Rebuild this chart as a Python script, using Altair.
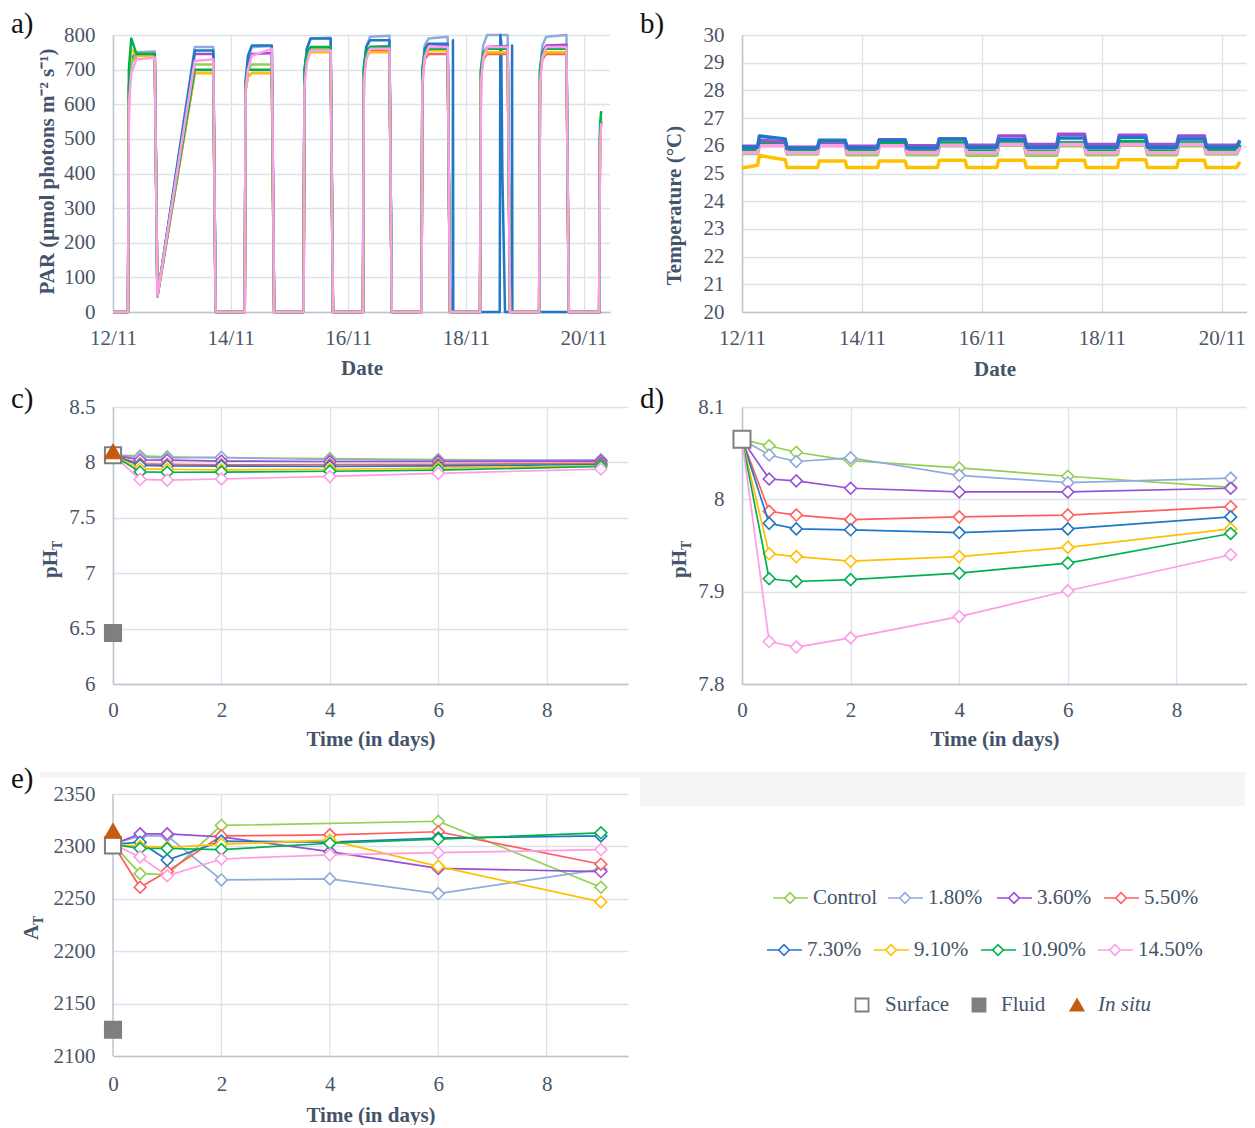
import json
import altair as alt
import pandas as pd

SERIF = "Liberation Serif, Times New Roman, Times, serif"
TXT = "#44546A"
GRID = "#DDE2EA"
AXIS = "#BCC4D0"

# ---------------- series & colours ----------------
SERIES = ["Control", "1.80%", "3.60%", "5.50%", "7.30%", "9.10%", "10.90%", "14.50%"]
COLORS = ["#92D050", "#8FAADC", "#9A4FD4", "#FF5E5E", "#1F78C6", "#FFC000", "#00B050", "#FF9CE6"]
COLOR = dict(zip(SERIES, COLORS))

DATE_TICKS = [0, 2, 4, 6, 8]
DATE_LABELS = ["12/11", "14/11", "16/11", "18/11", "20/11"]
DAY_TICKS = [0, 2, 4, 6, 8]

# ---------------- a) PAR (days since 12/11) ----------------
PAR_T = [0.0, 0.255, 0.27, 0.31, 0.40, 0.71, 0.755,
         1.39, 1.705, 1.745,
         2.24, 2.255, 2.295, 2.36, 2.70, 2.74,
         3.24, 3.255, 3.295, 3.36, 3.70, 3.74,
         4.25, 4.265, 4.305, 4.37, 4.70, 4.74,
         5.245, 5.26, 5.30, 5.365, 5.69, 5.73,
         6.24, 6.255, 6.295, 6.36, 6.71, 6.75,
         7.245, 7.26, 7.30, 7.365, 7.71, 7.75,
         8.265, 8.28, 8.30]
PAR_CONTROL = [0, 0, 640, 720, 745, 745, 45, 715, 715, 0,
               0, 650, 700, 715, 715, 0, 0, 680, 740, 760, 760, 0,
               0, 690, 745, 765, 765, 0, 0, 680, 745, 760, 760, 0,
               0, 690, 745, 760, 760, 0, 0, 690, 745, 760, 760, 0, 0, 520, 560]
PAR_180 = [0, 0, 650, 735, 750, 752, 45, 765, 765, 0,
           0, 660, 730, 765, 768, 0, 0, 690, 760, 790, 792, 0,
           0, 700, 765, 795, 798, 0, 0, 700, 770, 790, 795, 0,
           0, 700, 770, 800, 800, 0, 0, 700, 770, 795, 800, 0, 0, 500, 550]
PAR_360 = [0, 0, 640, 725, 740, 740, 45, 745, 745, 0,
           0, 650, 720, 745, 748, 0, 0, 680, 740, 760, 762, 0,
           0, 690, 745, 765, 768, 0, 0, 680, 745, 765, 768, 0,
           0, 690, 745, 765, 768, 0, 0, 690, 750, 770, 772, 0, 0, 500, 550]
PAR_550 = [0, 0, 630, 720, 740, 740, 45, 690, 690, 0,
           0, 640, 680, 690, 690, 0, 0, 670, 735, 755, 755, 0,
           0, 680, 735, 755, 755, 0, 0, 670, 730, 745, 745, 0,
           0, 680, 730, 745, 745, 0, 0, 680, 730, 745, 745, 0, 0, 500, 550]
PAR_910 = [0, 0, 640, 760, 740, 740, 45, 690, 690, 0,
           0, 640, 680, 690, 690, 0, 0, 670, 735, 750, 750, 0,
           0, 680, 735, 750, 750, 0, 0, 680, 740, 755, 755, 0,
           0, 680, 735, 750, 750, 0, 0, 680, 735, 750, 750, 0, 0, 500, 550]
PAR_1090 = [0, 0, 700, 790, 745, 745, 45, 700, 700, 0,
            0, 660, 700, 700, 700, 0, 0, 700, 750, 765, 765, 0,
            0, 710, 755, 765, 765, 0, 0, 700, 750, 760, 760, 0,
            0, 700, 750, 760, 760, 0, 0, 700, 750, 760, 760, 0, 0, 540, 580]
PAR_1450 = [0, 0, 600, 690, 730, 735, 45, 725, 730, 0,
            0, 640, 700, 740, 760, 0, 0, 650, 720, 755, 755, 0,
            0, 660, 730, 760, 760, 0, 0, 660, 735, 765, 765, 0,
            0, 660, 735, 765, 765, 0, 0, 660, 735, 765, 765, 0, 0, 480, 545]
PAR_T_730 = [0.0, 0.255, 0.27, 0.31, 0.40, 0.71, 0.755,
             1.39, 1.705, 1.745,
             2.24, 2.255, 2.295, 2.36, 2.70, 2.74,
             3.24, 3.255, 3.295, 3.36, 3.70, 3.74,
             4.25, 4.265, 4.305, 4.37, 4.70, 4.74,
             5.245, 5.26, 5.30, 5.365, 5.69, 5.73,
             5.775, 5.78, 5.785,
             6.575, 6.585, 6.60, 6.62, 6.665,
             6.78, 6.785, 6.79,
             8.30]
PAR_730 = [0, 0, 650, 730, 745, 745, 45, 755, 755, 0,
           0, 670, 740, 770, 770, 0, 0, 690, 760, 790, 790, 0,
           0, 700, 765, 785, 785, 0, 0, 690, 760, 775, 775, 0,
           0, 785, 0,
           0, 800, 780, 400, 0,
           0, 770, 0,
           0]

# ---------------- b) Temperature ----------------
TEMP_T = [0.0, 0.26, 0.29, 0.72, 0.75, 1.26, 1.29, 1.72, 1.75, 2.26, 2.29, 2.72, 2.75,
          3.26, 3.29, 3.72, 3.75, 4.25, 4.28, 4.71, 4.74, 5.25, 5.28, 5.71, 5.74,
          6.26, 6.29, 6.73, 6.76, 7.25, 7.28, 7.71, 7.74, 8.25, 8.30]
TEMP_CONTROL = [25.72, 25.72, 26.05, 26.02, 25.70, 25.70, 26.02, 26.02, 25.68, 25.68, 26.02, 26.02,
                25.68, 25.68, 26.00, 26.00, 25.66, 25.66, 26.02, 26.02, 25.66, 25.66, 26.00, 26.00,
                25.68, 25.68, 26.02, 26.02, 25.68, 25.68, 26.00, 26.00, 25.70, 25.70, 25.95]
TEMP_180 = [25.85, 25.85, 26.10, 26.10, 25.85, 25.85, 26.08, 26.08, 25.85, 25.85, 26.10, 26.10,
            25.85, 25.85, 26.10, 26.10, 25.85, 25.85, 26.12, 26.12, 25.85, 25.85, 26.12, 26.12,
            25.85, 25.85, 26.12, 26.12, 25.85, 25.85, 26.12, 26.12, 25.85, 25.85, 26.05]
TEMP_360 = [25.98, 25.98, 26.20, 26.15, 25.95, 25.95, 26.15, 26.15, 25.98, 25.98, 26.22, 26.22,
            26.00, 26.00, 26.25, 26.25, 26.02, 26.02, 26.35, 26.35, 26.05, 26.05, 26.42, 26.42,
            26.05, 26.05, 26.38, 26.38, 26.05, 26.05, 26.35, 26.35, 26.02, 26.02, 26.15]
TEMP_550 = [25.78, 25.78, 26.05, 26.05, 25.78, 25.78, 26.05, 26.05, 25.78, 25.78, 26.05, 26.05,
            25.78, 25.78, 26.05, 26.05, 25.78, 25.78, 26.08, 26.08, 25.78, 25.78, 26.08, 26.08,
            25.78, 25.78, 26.08, 26.08, 25.78, 25.78, 26.08, 26.08, 25.78, 25.78, 26.00]
TEMP_730 = [25.95, 25.95, 26.35, 26.25, 25.90, 25.92, 26.20, 26.20, 25.92, 25.92, 26.20, 26.20,
            25.92, 25.92, 26.25, 26.25, 25.95, 25.95, 26.22, 26.22, 25.95, 25.95, 26.28, 26.28,
            25.95, 25.95, 26.30, 26.30, 25.95, 25.95, 26.25, 26.25, 25.95, 25.95, 26.20]
TEMP_910 = [25.20, 25.30, 25.65, 25.50, 25.22, 25.22, 25.45, 25.45, 25.22, 25.22, 25.45, 25.45,
            25.22, 25.22, 25.48, 25.48, 25.22, 25.22, 25.48, 25.48, 25.22, 25.22, 25.48, 25.48,
            25.22, 25.22, 25.50, 25.50, 25.22, 25.22, 25.48, 25.48, 25.22, 25.22, 25.42]
TEMP_1090 = [25.82, 25.82, 26.12, 26.10, 25.80, 25.80, 26.08, 26.08, 25.80, 25.80, 26.10, 26.10,
             25.78, 25.78, 26.10, 26.10, 25.80, 25.80, 26.12, 26.12, 25.78, 25.78, 26.10, 26.10,
             25.80, 25.80, 26.15, 26.15, 25.80, 25.80, 26.10, 26.10, 25.82, 25.82, 26.05]
TEMP_1450 = [25.75, 25.75, 26.00, 26.00, 25.75, 25.75, 26.00, 26.00, 25.75, 25.75, 26.00, 26.00,
             25.75, 25.75, 26.02, 26.02, 25.75, 25.75, 26.05, 26.05, 25.75, 25.75, 26.05, 26.05,
             25.75, 25.75, 26.05, 26.05, 25.75, 25.75, 26.05, 26.05, 25.75, 25.75, 25.95]

# ---------------- c/d) pH_T and e) A_T ----------------
DAYS = [0, 0.5, 1, 2, 4, 6, 9]
PH_CONTROL = [8.065, 8.058, 8.051, 8.042, 8.034, 8.025, 8.013]
PH_180 = [8.065, 8.048, 8.041, 8.045, 8.026, 8.018, 8.023]
PH_360 = [8.065, 8.022, 8.020, 8.012, 8.008, 8.008, 8.012]
PH_550 = [8.065, 7.987, 7.983, 7.978, 7.981, 7.983, 7.992]
PH_730 = [8.065, 7.974, 7.968, 7.967, 7.964, 7.968, 7.981]
PH_910 = [8.065, 7.941, 7.938, 7.933, 7.938, 7.948, 7.968]
PH_1090 = [8.065, 7.914, 7.911, 7.913, 7.920, 7.931, 7.963]
PH_1450 = [8.065, 7.846, 7.840, 7.850, 7.873, 7.901, 7.940]

AT_CONTROL = [2302, 2274, 2273, 2320, None, 2324, 2261]
AT_180 = [2302, 2310, 2310, 2268, 2269, 2255, 2278]
AT_360 = [2302, 2312, 2312, 2309, 2295, 2279, 2276]
AT_550 = [2302, 2261, 2276, 2310, 2311, 2314, 2283]
AT_730 = [2302, 2304, 2287, 2305, 2304, 2308, 2310]
AT_910 = [2302, 2300, 2299, 2302, 2306, 2281, 2247]
AT_1090 = [2302, 2298, 2298, 2297, 2303, 2307, 2313]
AT_1450 = [2302, 2290, 2272, 2288, 2292, 2294, 2297]

SURFACE_PH, FLUID_PH, INSITU_PH = 8.065, 6.46, 8.10
SURFACE_AT, FLUID_AT, INSITU_AT = 2301, 2125, 2315

PAR = dict(zip(SERIES, [PAR_CONTROL, PAR_180, PAR_360, PAR_550, PAR_730, PAR_910, PAR_1090, PAR_1450]))
PAR_TIMES = {n: PAR_T for n in SERIES}
PAR_TIMES["7.30%"] = PAR_T_730
TEMP = dict(zip(SERIES, [TEMP_CONTROL, TEMP_180, TEMP_360, TEMP_550, TEMP_730, TEMP_910, TEMP_1090, TEMP_1450]))
PH = dict(zip(SERIES, [PH_CONTROL, PH_180, PH_360, PH_550, PH_730, PH_910, PH_1090, PH_1450]))
AT = dict(zip(SERIES, [AT_CONTROL, AT_180, AT_360, AT_550, AT_730, AT_910, AT_1090, AT_1450]))

H = 277
date_expr = json.dumps(DATE_LABELS) + "[indexof(" + json.dumps(DATE_TICKS) + ", datum.value)]"


def one(text):
    return pd.DataFrame({"s": [text]})


def panel_label(text, x, y):
    return alt.Chart(one(text)).mark_text(
        font=SERIF, fontSize=29, color="#111111", align="left", baseline="alphabetic"
    ).encode(text="s:N", x=alt.value(x), y=alt.value(y))


def rot_text(text, x, y, size, bold=True):
    return alt.Chart(one(text)).mark_text(
        font=SERIF, fontSize=size, fontWeight="bold" if bold else "normal", color=TXT,
        angle=270, align="left", baseline="alphabetic"
    ).encode(text="s:N", x=alt.value(x), y=alt.value(y))


def xq(dom, title, ticks, expr=None, title_y=62, label_pad=32, grid=True):
    ax = dict(values=ticks, title=title, titleY=title_y, titleBaseline="alphabetic",
              labelBaseline="alphabetic", labelPadding=label_pad, grid=grid)
    if expr:
        ax["labelExpr"] = expr
    return alt.X("t:Q", scale=alt.Scale(domain=dom, nice=False, zero=False), axis=alt.Axis(**ax))


def yq(field, dom, ticks, title=None, title_x=-60, title_y=138, fmt=None, domain=True, label_pad=18):
    ax = dict(values=ticks, title=title, labelPadding=label_pad, domain=domain)
    if title:
        ax.update(titleX=title_x, titleY=title_y, titleAngle=270, titleAlign="center",
                  titleBaseline="alphabetic")
    if fmt:
        ax["format"] = fmt
    return alt.Y(field, scale=alt.Scale(domain=dom, nice=False, zero=False), axis=alt.Axis(**ax))


def line(df, color, x, y, sw):
    return alt.Chart(df).mark_line(color=color, strokeWidth=sw, strokeJoin="round").encode(x=x, y=y)


# ---------------- panel a ----------------
xa = xq([0, 8.45], "Date", DATE_TICKS, expr=date_expr, title_y=62)
ya = yq("v:Q", [0, 800], list(range(0, 801, 100)), title="PAR (µmol photons m⁻² s⁻¹)",
        title_x=-60, title_y=136)
anchor = alt.Chart(one("")).mark_rect(color="white").encode(
    x=alt.value(-105), x2=alt.value(-104), y=alt.value(-27), y2=alt.value(-26))
order_a = ["1.80%", "3.60%", "7.30%", "5.50%", "9.10%", "Control", "10.90%", "14.50%"]
layers_a = [anchor] + [
    line(pd.DataFrame({"t": PAR_TIMES[n], "v": PAR[n]}), COLOR[n], xa, ya, 2.5) for n in order_a
] + [panel_label("a)", -102, -2)]
panel_a = alt.layer(*layers_a).properties(width=497, height=H)

# ---------------- panel b ----------------
xb = xq([0, 8.42], "Date", DATE_TICKS, expr=date_expr, title_y=63)
yb = yq("v:Q", [20, 30], list(range(20, 31)), title="Temperature (°C)", title_x=-62, title_y=170)
order_b = ["Control", "1.80%", "5.50%", "10.90%", "14.50%", "3.60%", "7.30%", "9.10%"]
layers_b = [
    line(pd.DataFrame({"t": TEMP_T, "v": TEMP[n]}), COLOR[n], xb, yb, 3.5) for n in order_b
] + [panel_label("b)", -102, -2)]
panel_b = alt.layer(*layers_b).properties(width=505, height=H)


# ---------------- helpers for pH / A_T ----------------
def series_layers(data, x, y):
    out = []
    for n in SERIES:
        df = pd.DataFrame({"t": DAYS, "v": data[n]}).dropna()
        out.append(alt.Chart(df).mark_line(
            color=COLOR[n], strokeWidth=1.7,
            point=alt.OverlayMarkDef(shape="diamond", filled=True, fill="white", stroke=COLOR[n],
                                     strokeWidth=1.6, size=140)
        ).encode(x=x, y=y))
    return out


def marker(val, shape, fill, stroke, size, x, y, sw=2):
    df = pd.DataFrame({"t": [0], "v": [val]})
    return alt.Chart(df).mark_point(shape=shape, filled=True, fill=fill, stroke=stroke,
                                    strokeWidth=sw, size=size, opacity=1).encode(x=x, y=y)


# ---------------- panel c ----------------
xc = xq([0, 9.5], "Time (in days)", DAY_TICKS, title_y=61)
yc = yq("v:Q", [6, 8.5], [6, 6.5, 7, 7.5, 8, 8.5], fmt=".1~f")
layers_c = series_layers(PH, xc, yc) + [
    marker(SURFACE_PH, "square", "white", "#7F7F7F", 260, xc, yc),
    marker(FLUID_PH, "square", "#7F7F7F", "#7F7F7F", 260, xc, yc),
    marker(INSITU_PH, "triangle-up", "#C55A11", "#C55A11", 300, xc, yc, 1),
    rot_text("pH", -56, 171, 21),
    rot_text("T", -51, 143, 14),
    panel_label("c)", -102, 1),
]
panel_c = alt.layer(*layers_c).properties(width=515, height=H)

# ---------------- panel d ----------------
xd = xq([0, 9.3], "Time (in days)", DAY_TICKS, title_y=61)
yd = yq("v:Q", [7.8, 8.1], [7.8, 7.9, 8.0, 8.1], fmt=".1~f")
layers_d = series_layers(PH, xd, yd) + [
    marker(SURFACE_PH, "square", "white", "#7F7F7F", 290, xd, yd),
    rot_text("pH", -56, 171, 21),
    rot_text("T", -51, 143, 14),
    panel_label("d)", -102, 1),
]
panel_d = alt.layer(*layers_d).properties(width=505, height=H)

# ---------------- panel e ----------------
E_TOP_PAD = 15  # plot area of e starts 15px below its row
e_max = 2350 + E_TOP_PAD * 250 / 262
xe = xq([0, 9.5], "Time (in days)", DAY_TICKS, title_y=65, label_pad=34, grid=False)
ye = yq("v:Q", [2100, e_max], [2100, 2150, 2200, 2250, 2300, 2350], fmt="d", domain=False)
grid_e = alt.Chart(pd.DataFrame({"t": [2, 4, 6, 8], "v": [2100] * 4, "v2": [2350] * 4})).mark_rule(
    color=GRID, strokeWidth=1.3).encode(x=xe, y=ye, y2="v2:Q")
yaxis_e = alt.Chart(pd.DataFrame({"t": [0], "v": [2100], "v2": [2350]})).mark_rule(
    color=AXIS, strokeWidth=1.5).encode(x=xe, y=ye, y2="v2:Q")
band_e = alt.Chart(one("")).mark_rect(color="#F5F5F5").encode(
    x=alt.value(-73), x2=alt.value(527), y=alt.value(-7), y2=alt.value(-1))
layers_e = [band_e, grid_e, yaxis_e] + series_layers(AT, xe, ye) + [
    marker(SURFACE_AT, "square", "white", "#7F7F7F", 260, xe, ye),
    marker(FLUID_AT, "square", "#7F7F7F", "#7F7F7F", 260, xe, ye),
    marker(INSITU_AT, "triangle-up", "#C55A11", "#C55A11", 300, xe, ye, 1),
    rot_text("A", -75, 161, 21),
    rot_text("T", -70, 146, 14),
    panel_label("e)", -102, 9),
]
panel_e = alt.layer(*layers_e).properties(width=515, height=H)

# ---------------- legend panel ----------------
LEG_X = [31, 146, 255, 362, 25, 132, 239, 356]
LEG_Y = [119, 119, 119, 119, 171, 171, 171, 171]
leg = pd.DataFrame({"name": SERIES, "c": COLORS, "x0": LEG_X, "y": LEG_Y})
leg["x1"] = leg["x0"] + 35
leg["xd"] = leg["x0"] + 17
leg["xt"] = leg["x0"] + 40
ly = alt.Y("y:Q", scale=None, axis=None)
leg_rule = alt.Chart(leg).mark_rule(strokeWidth=1.6).encode(
    x=alt.X("x0:Q", scale=None, axis=None), x2="x1:Q", y=ly, color=alt.Color("c:N", scale=None))
leg_pt = alt.Chart(leg).mark_point(shape="diamond", filled=True, fill="white", size=110,
                                   strokeWidth=1.6, opacity=1).encode(
    x=alt.X("xd:Q", scale=None, axis=None), y=ly, stroke=alt.Stroke("c:N", scale=None))
leg_txt = alt.Chart(leg).mark_text(font=SERIF, fontSize=21, color=TXT, align="left",
                                   baseline="middle").encode(
    x=alt.X("xt:Q", scale=None, axis=None), y=ly, text="name:N")

SYM_NAMES = ["Surface", "Fluid", "In situ"]
sym = pd.DataFrame({
    "name": SYM_NAMES, "x": [120, 237, 335], "xt": [143, 259, 356], "y": [226, 226, 226],
    "shape": ["square", "square", "triangle-up"],
    "fill": ["white", "#7F7F7F", "#C55A11"], "stroke": ["#7F7F7F", "#7F7F7F", "#C55A11"],
})
sym_pt = alt.Chart(sym).mark_point(filled=True, size=170, strokeWidth=1.8, opacity=1).encode(
    x=alt.X("x:Q", scale=None, axis=None), y=ly,
    shape=alt.Shape("shape:N", scale=None), fill=alt.Fill("fill:N", scale=None),
    stroke=alt.Stroke("stroke:N", scale=None))
sym_txt = alt.Chart(sym.iloc[:2]).mark_text(font=SERIF, fontSize=21, color=TXT, align="left",
                                            baseline="middle").encode(
    x=alt.X("xt:Q", scale=None, axis=None), y=ly, text="name:N")
sym_txt_it = alt.Chart(sym.iloc[2:]).mark_text(font=SERIF, fontSize=21, color=TXT, align="left",
                                               baseline="middle", fontStyle="italic").encode(
    x=alt.X("xt:Q", scale=None, axis=None), y=ly, text="name:N")
band_l = alt.Chart(one("")).mark_rect(color="#F5F5F5").encode(
    x=alt.value(-102), x2=alt.value(503), y=alt.value(-7), y2=alt.value(27))
legend = alt.layer(band_l, leg_rule, leg_pt, leg_txt, sym_pt, sym_txt, sym_txt_it).properties(
    width=505, height=H)

chart = alt.concat(
    panel_a, panel_b, panel_c, panel_d, panel_e, legend,
    columns=2, spacing={"row": 95, "column": 114}, bounds="flush", align="all", padding=0,
).configure_axis(
    labelFont=SERIF, labelFontSize=21, labelColor="#4A5568",
    titleFont=SERIF, titleFontSize=21, titleFontWeight="bold", titleColor=TXT,
    ticks=False, tickSize=0, domainColor=AXIS, domainWidth=1.5,
    gridColor=GRID, gridWidth=1.3, labelFlush=False, labelOverlap=False,
).configure_view(stroke=None)

chart.save("out.html", embed_options={"renderer": "svg", "actions": False})
